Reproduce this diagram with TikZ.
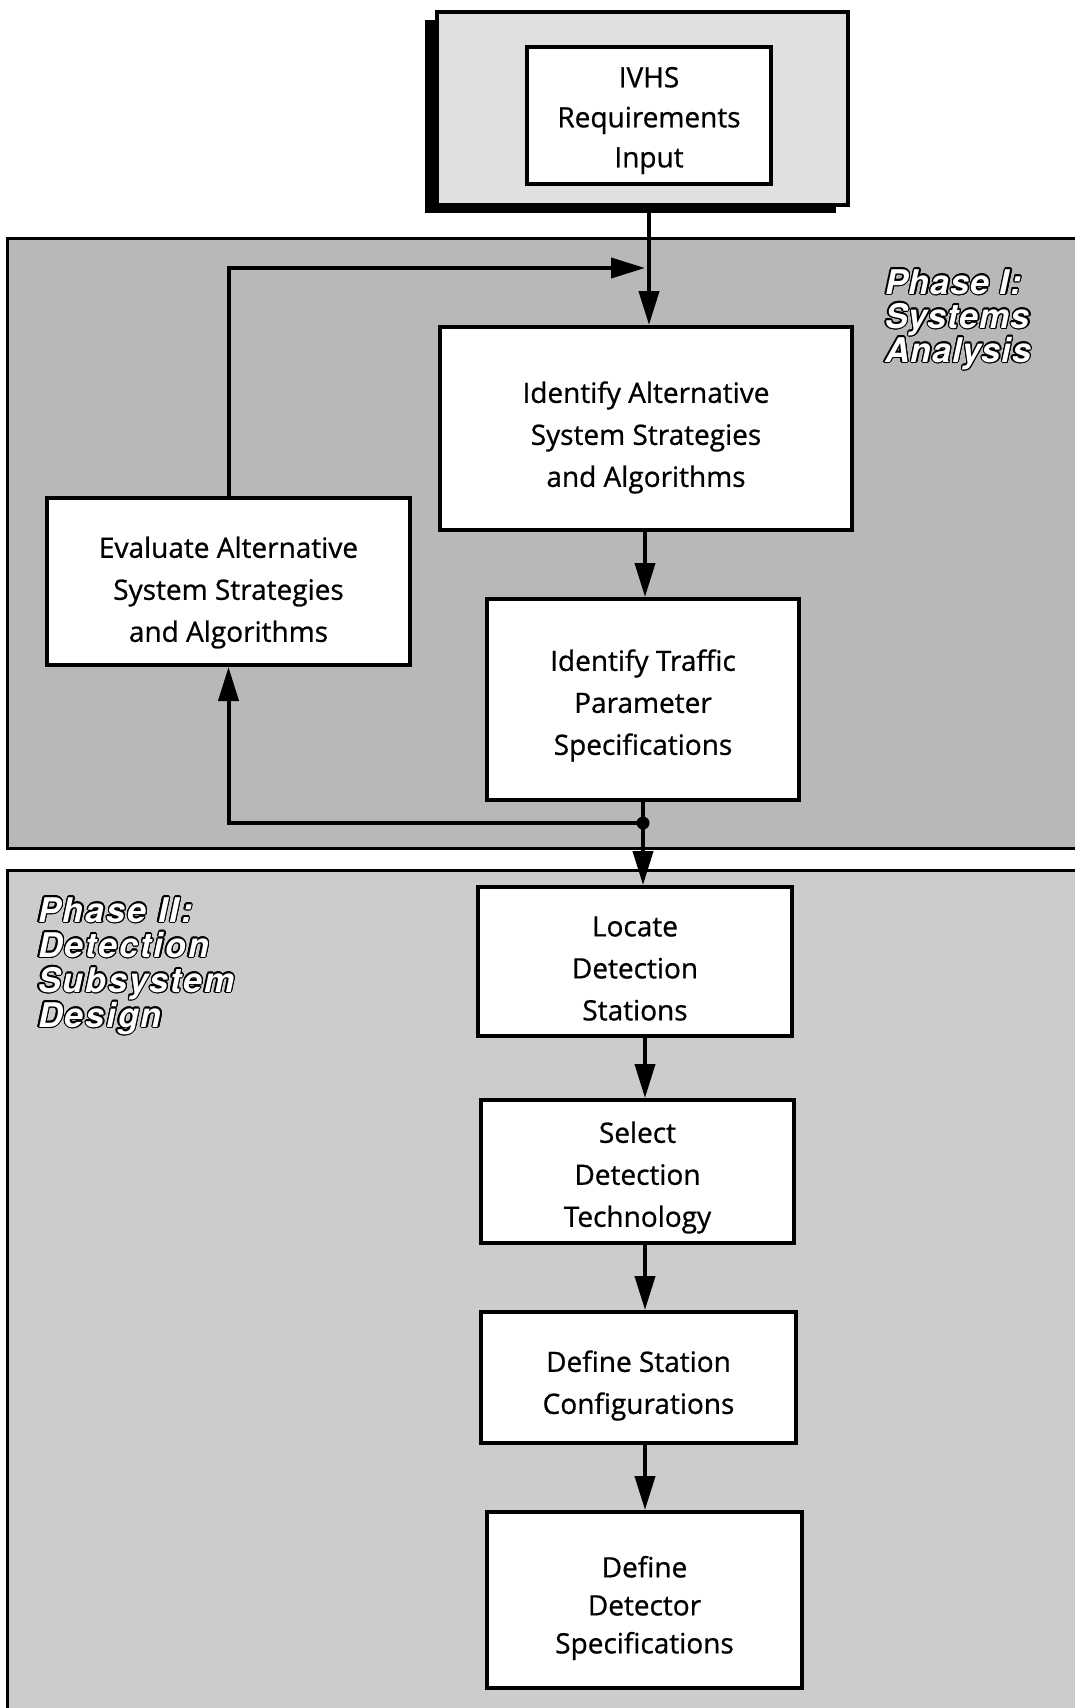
\documentclass[tikz,border=0pt]{standalone}
\usepackage{fontspec}
\setmainfont{Open Sans}
\newfontfamily\boxfont{Open Sans}[FakeBold=0.8]
\newfontfamily\phasefont{TeX Gyre Heros}[LetterSpace=3]
\newfontfamily\phasewide{TeX Gyre Heros}[LetterSpace=6]
\usepackage[copies]{contour}
\contourlength{1.3pt}
\usetikzlibrary{arrows.meta}
\begin{document}
\begin{tikzpicture}[x=1pt,y=-1pt,
  box/.style={draw, line width=4pt, fill=white, inner sep=0pt},
  boxtext/.style={align=center, inner sep=0pt, font=\boxfont\fontsize{28}{42}\selectfont},
  flow/.style={line width=4pt, -{Triangle[length=34pt,width=20pt]}},
  plainline/.style={line width=4pt},
  phase/.style={anchor=base west, inner sep=0pt, text=white, font=\phasefont\bfseries\itshape\fontsize{34}{34}\selectfont},
  phasetwo/.style={phase, font=\phasewide\bfseries\itshape\fontsize{34}{34}\selectfont},
]
\useasboundingbox (0,0) rectangle (1075,1708);
\fill[white] (0,0) rectangle (1075,1708);
% phase panels
\draw[line width=3pt, fill=black!28] (7,238) rectangle (1100,848);
\draw[line width=3pt, fill=black!20] (7,870) rectangle (1100,1730);
% top input box with shadow
\fill (425,20) rectangle (836,213);
\node[draw, line width=3.5pt, fill=black!12, minimum width=411pt, minimum height=193pt, inner sep=0pt] (frame) at (642.5,108.5) {};
\node[box, minimum width=244pt, minimum height=137pt] (ivhs) at (649,115.5) {};
\node[boxtext, font=\boxfont\fontsize{28}{40}\selectfont] (ivhs-t) at ([yshift=-5pt]ivhs.center) {IVHS\\Requirements\\Input};
% boxes
\node[box, minimum width=412pt, minimum height=203pt] (idalt) at (646,428.5) {};
\node[boxtext] (idalt-t) at ([yshift=-9pt]idalt.center) {Identify Alternative\\System Strategies\\and Algorithms};
\node[box, minimum width=363pt, minimum height=167pt] (eval) at (228.5,581.5) {};
\node[boxtext] (eval-t) at ([yshift=-11pt]eval.center) {Evaluate Alternative\\System Strategies\\and Algorithms};
\node[box, minimum width=312pt, minimum height=201pt] (traffic) at (643,699.5) {};
\node[boxtext] (traffic-t) at ([yshift=-6pt]traffic.center) {Identify Traffic\\Parameter\\Specifications};
\node[box, minimum width=314pt, minimum height=149pt] (locate) at (635,961.5) {};
\node[boxtext] (locate-t) at ([yshift=-7pt]locate.center) {Locate\\Detection\\Stations};
\node[box, minimum width=313pt, minimum height=143pt] (select) at (637.5,1171.5) {};
\node[boxtext] (select-t) at ([yshift=-6pt]select.center) {Select\\Detection\\Technology};
\node[box, minimum width=315pt, minimum height=131pt] (station) at (638.5,1377.5) {};
\node[boxtext] (station-t) at ([yshift=-8pt]station.center) {Define Station\\Configurations};
\node[box, minimum width=315pt, minimum height=176pt] (detector) at (644.5,1600) {};
\node[boxtext, font=\boxfont\fontsize{28}{38}\selectfont] (detector-t) at ([yshift=-8pt]detector.center) {Define\\Detector\\Specifications};
% connectors
\coordinate (sp) at (645,0);
\coordinate (fb) at (645,268);
\coordinate (dot) at (643,823);
\draw[flow] (frame.south -| ivhs.south) -- (idalt.north -| ivhs.south);
\draw[flow] (eval.north) |- (fb);
\draw[flow] (idalt.south -| sp) -- (traffic.north -| sp);
\draw[plainline] (traffic.south -| dot) -- (dot);
\draw[flow] (dot) -- (locate.north -| dot);
\draw[flow] (dot) -| (eval.south);
\fill (dot) circle (6.5pt);
\draw[flow] (locate.south -| sp) -- (select.north -| sp);
\draw[flow] (select.south -| sp) -- (station.north -| sp);
\draw[flow] (station.south -| sp) -- (detector.north -| sp);
% phase labels
\node[phase] (ph1a) at (885,294) {\contour{black}{Phase I:}};
\node[phase] (ph1b) at (885,328) {\contour{black}{Systems}};
\node[phase] (ph1c) at (885,362) {\contour{black}{Analysis}};
\node[phasetwo] (ph2a) at (38,922) {\contour{black}{Phase II:}};
\node[phasetwo] (ph2b) at (38,957) {\contour{black}{Detection}};
\node[phasetwo] (ph2c) at (38,992) {\contour{black}{Subsystem}};
\node[phasetwo] (ph2d) at (38,1027) {\contour{black}{Design}};
\end{tikzpicture}
\end{document}
